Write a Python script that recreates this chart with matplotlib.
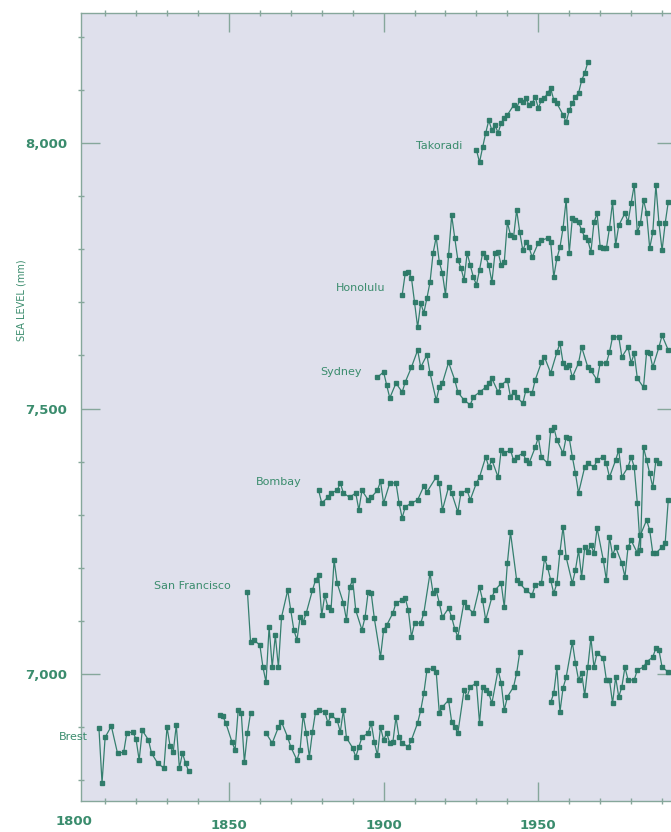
import numpy as np
import matplotlib
matplotlib.use("Agg")
import matplotlib.pyplot as plt
from matplotlib.ticker import MultipleLocator, FuncFormatter, NullFormatter
import matplotlib.transforms as mtransforms

# ---------------- data (annual mean sea level, mm) ----------------
brest_years = [1808, 1809, 1810, 1812, 1814, 1816, 1817, 1819, 1820, 1821, 1822, 1824, 1825,
               1827, 1829, 1830, 1831, 1832, 1833, 1834, 1835, 1836, 1837,
               1847, 1848, 1849, 1851, 1852, 1853, 1854, 1855, 1856, 1857,
               1862, 1864, 1866, 1867, 1869, 1870, 1872, 1873, 1874, 1875, 1876, 1877, 1878,
               1879, 1881, 1882, 1883, 1885, 1886, 1887, 1888, 1890, 1891, 1892, 1893, 1895,
               1896, 1897, 1898, 1899, 1900, 1901, 1902, 1903, 1904, 1905, 1906, 1908, 1909,
               1911, 1912, 1913, 1914, 1916, 1917, 1918, 1919, 1921, 1922, 1923, 1924, 1926,
               1927, 1928, 1930, 1931, 1932, 1933, 1934, 1935, 1937, 1938, 1939, 1940, 1942,
               1943, 1944,
               1954, 1955, 1956, 1957, 1958, 1959, 1961, 1962, 1963, 1964, 1965, 1966, 1967,
               1968, 1969, 1971, 1972, 1973, 1974, 1975, 1976, 1977, 1978, 1979, 1981, 1982,
               1984, 1985, 1987, 1988, 1989, 1990, 1992]
brest_mm = [6898, 6795, 6881, 6902, 6851, 6853, 6889, 6891, 6877, 6838, 6894, 6876, 6851,
            6832, 6823, 6900, 6864, 6853, 6904, 6823, 6851, 6832, 6817,
            6923, 6921, 6908, 6872, 6857, 6932, 6927, 6834, 6889, 6927,
            6889, 6870, 6900, 6910, 6881, 6863, 6838, 6857, 6923, 6889, 6844, 6891, 6929,
            6932, 6929, 6908, 6923, 6913, 6891, 6932, 6880, 6861, 6844, 6863, 6881, 6889,
            6908, 6872, 6847, 6900, 6876, 6889, 6870, 6872, 6919, 6881, 6870, 6863, 6876,
            6908, 6932, 6964, 7007, 7011, 7004, 6927, 6938, 6951, 6910, 6900, 6889, 6970,
            6957, 6976, 6983, 6908, 6976, 6970, 6964, 6945, 7008, 6983, 6932, 6957, 6976,
            7002, 7041,
            6947, 6964, 7013, 6929, 6974, 6994, 7060, 7021, 6989, 7002, 6960, 7013, 7068,
            7013, 7040, 7030, 6989, 6989, 6945, 6994, 6957, 6976, 7013, 6989, 6989, 7008,
            7013, 7023, 7032, 7049, 7045, 7013, 7004]

sf_years = [1856, 1857, 1858, 1860, 1861, 1862, 1863, 1864, 1865, 1866, 1867, 1869, 1870,
            1871, 1872, 1873, 1874, 1875, 1877, 1878, 1879, 1880, 1881, 1882, 1883, 1884,
            1885, 1887, 1888, 1889, 1890, 1891, 1893, 1894, 1895, 1896, 1897, 1899, 1900,
            1901, 1903, 1904, 1906, 1907, 1908, 1909, 1910, 1912, 1913, 1915, 1916, 1917,
            1918, 1919, 1921, 1922, 1923, 1924, 1926, 1927, 1929, 1931, 1932, 1933, 1935,
            1936, 1938, 1939, 1940, 1941, 1943, 1944, 1946, 1948, 1949, 1951, 1952, 1953,
            1954, 1955, 1956, 1957, 1958, 1959, 1961, 1962, 1963, 1964, 1965, 1966, 1967,
            1968, 1969, 1971, 1972, 1973, 1974, 1975, 1977, 1978, 1979, 1980, 1982, 1983,
            1985, 1986, 1987, 1988, 1990, 1991, 1992]
sf_mm = [7154, 7060, 7064, 7055, 7013, 6985, 7089, 7013, 7073, 7013, 7107, 7158, 7120,
         7083, 7064, 7107, 7098, 7115, 7158, 7177, 7186, 7111, 7149, 7126, 7120, 7215,
         7171, 7134, 7102, 7164, 7177, 7120, 7083, 7107, 7154, 7152, 7105, 7032, 7083,
         7092, 7115, 7134, 7139, 7143, 7120, 7070, 7096, 7096, 7115, 7190, 7152, 7158,
         7134, 7107, 7124, 7107, 7085, 7070, 7136, 7126, 7115, 7164, 7139, 7102, 7145,
         7158, 7171, 7126, 7209, 7267, 7177, 7171, 7158, 7149, 7168, 7171, 7218, 7201,
         7177, 7152, 7171, 7230, 7277, 7220, 7171, 7196, 7233, 7183, 7239, 7230, 7243,
         7228, 7275, 7215, 7177, 7258, 7224, 7239, 7209, 7183, 7239, 7252, 7228, 7262,
         7290, 7271, 7228, 7228, 7239, 7247, 7328]

bombay_years = [1879, 1880, 1882, 1883, 1885, 1886, 1887, 1889, 1891, 1892, 1893, 1895,
                1896, 1898, 1899, 1900, 1902, 1904, 1905, 1906, 1907, 1909, 1911, 1913,
                1914, 1917, 1918, 1919, 1921, 1922, 1924, 1925, 1927, 1928, 1930, 1931,
                1933, 1934, 1935, 1937, 1938, 1939, 1941, 1942, 1943, 1945, 1946, 1947,
                1949, 1950, 1951, 1953, 1954, 1955, 1956, 1958, 1959, 1960, 1961, 1962,
                1963, 1965, 1966, 1968, 1969, 1971, 1972, 1973, 1975, 1976, 1977, 1979,
                1980, 1981, 1982, 1983, 1984, 1985, 1986, 1987, 1988, 1989]
bombay_mm = [7346, 7322, 7333, 7341, 7346, 7360, 7341, 7333, 7341, 7309, 7346, 7328,
             7333, 7346, 7363, 7322, 7360, 7360, 7322, 7294, 7315, 7322, 7328, 7354,
             7343, 7371, 7360, 7309, 7352, 7341, 7305, 7341, 7346, 7328, 7360, 7371,
             7409, 7390, 7403, 7371, 7422, 7416, 7422, 7403, 7409, 7416, 7403, 7397,
             7427, 7446, 7409, 7397, 7459, 7465, 7441, 7416, 7446, 7444, 7409, 7378,
             7341, 7390, 7397, 7390, 7403, 7409, 7397, 7371, 7403, 7422, 7371, 7390,
             7409, 7390, 7322, 7233, 7427, 7403, 7378, 7352, 7403, 7397]

sydney_years = [1898, 1900, 1901, 1902, 1904, 1906, 1907, 1909, 1911, 1912, 1914, 1915,
                1917, 1918, 1919, 1921, 1923, 1924, 1926, 1928, 1929, 1931, 1933, 1934,
                1935, 1937, 1938, 1940, 1941, 1942, 1943, 1945, 1946, 1948, 1949, 1951,
                1952, 1954, 1956, 1957, 1958, 1959, 1960, 1961, 1963, 1964, 1966, 1967,
                1969, 1970, 1972, 1973, 1974, 1976, 1977, 1979, 1980, 1981, 1982, 1984,
                1985, 1986, 1987, 1989, 1990, 1992]
sydney_mm = [7559, 7569, 7544, 7520, 7548, 7531, 7550, 7578, 7610, 7578, 7601, 7567,
             7516, 7540, 7548, 7587, 7554, 7531, 7516, 7507, 7522, 7531, 7540, 7548,
             7557, 7531, 7544, 7554, 7522, 7531, 7522, 7510, 7535, 7529, 7554, 7587,
             7597, 7567, 7606, 7623, 7586, 7578, 7582, 7559, 7586, 7616, 7578, 7572,
             7554, 7586, 7586, 7606, 7635, 7635, 7597, 7616, 7586, 7604, 7557, 7540,
             7606, 7604, 7578, 7616, 7638, 7610]

honolulu_years = [1906, 1907, 1908, 1909, 1910, 1911, 1912, 1913, 1914, 1915, 1916, 1917,
                  1918, 1919, 1920, 1921, 1922, 1923, 1924, 1925, 1926, 1927, 1928, 1929,
                  1930, 1931, 1932, 1933, 1934, 1935, 1936, 1937, 1938, 1939, 1940, 1941,
                  1942, 1943, 1944, 1945, 1946, 1947, 1948, 1950, 1951, 1953, 1954, 1955,
                  1956, 1957, 1958, 1959, 1960, 1961, 1962, 1963, 1964, 1965, 1966, 1967,
                  1968, 1969, 1970, 1971, 1972, 1973, 1974, 1975, 1976, 1978, 1979, 1980,
                  1981, 1982, 1983, 1984, 1985, 1986, 1987, 1988, 1989, 1990, 1991, 1992]
honolulu_mm = [7714, 7755, 7757, 7746, 7700, 7653, 7699, 7680, 7708, 7738, 7793, 7823,
               7776, 7755, 7714, 7789, 7864, 7821, 7780, 7765, 7742, 7793, 7770, 7748,
               7733, 7761, 7793, 7785, 7770, 7738, 7793, 7795, 7770, 7776, 7851, 7827,
               7823, 7874, 7832, 7798, 7813, 7804, 7785, 7812, 7817, 7821, 7813, 7748,
               7783, 7804, 7840, 7893, 7793, 7859, 7855, 7851, 7836, 7823, 7817, 7795,
               7851, 7868, 7804, 7802, 7802, 7840, 7889, 7808, 7845, 7868, 7851, 7887,
               7921, 7832, 7849, 7893, 7868, 7802, 7832, 7921, 7849, 7798, 7849, 7889]

takoradi_years = [1930, 1931, 1932, 1933, 1934, 1935, 1936, 1937, 1938, 1939, 1940, 1942,
                  1943, 1944, 1945, 1946, 1947, 1948, 1949, 1950, 1951, 1952, 1953, 1954,
                  1955, 1956, 1958, 1959, 1960, 1961, 1962, 1963, 1964, 1965, 1966]
takoradi_mm = [7987, 7964, 7992, 8019, 8043, 8024, 8034, 8019, 8038, 8047, 8053, 8071,
               8066, 8081, 8077, 8085, 8071, 8075, 8087, 8066, 8081, 8085, 8094, 8103,
               8081, 8075, 8053, 8039, 8062, 8075, 8087, 8094, 8118, 8132, 8152]

station_names = ["Brest", "San Francisco", "Bombay", "Sydney", "Honolulu", "Takoradi"]
series = [(brest_years, brest_mm), (sf_years, sf_mm), (bombay_years, bombay_mm),
          (sydney_years, sydney_mm), (honolulu_years, honolulu_mm),
          (takoradi_years, takoradi_mm)]

# ---------------- style ----------------
LINE = "#2c7a68"
TEXT = "#3a8c6d"
SPINE = "#86a79b"
BG = "#dfe0ec"
NARROW = ["Liberation Sans Narrow", "DejaVu Sans"]

fig = plt.figure(figsize=(6.71, 8.32), dpi=100)
ax = fig.add_axes([81 / 671, 1 - 801 / 832, (676 - 81) / 671, (801 - 13) / 832])
ax.set_facecolor(BG)
ax.set_xlim(1802.2, 1994.5)
ax.set_ylim(6761, 8245)


def breaks(years, vals, gap=3):
    xs, ys = [], []
    for i, (yr, v) in enumerate(zip(years, vals)):
        if i > 0 and yr - years[i - 1] > gap:
            xs.append(np.nan)
            ys.append(np.nan)
        xs.append(yr)
        ys.append(v)
    return np.array(xs, float), np.array(ys, float)


for yrs, vals in series:
    xs, ys = breaks(yrs, vals)
    ax.plot(xs, ys, color=LINE, lw=0.9, marker="s", ms=2.4, mec=LINE, mfc=LINE,
            alpha=0.95, zorder=3)

# station labels (anchored at right edge, near the series start)
label_pos = {"Brest": (1804.4, 6881), "San Francisco": (1850.6, 7166),
             "Bombay": (1873.6, 7362), "Sydney": (1893.0, 7569),
             "Honolulu": (1900.5, 7727), "Takoradi": (1925.4, 7994)}
for name in station_names:
    x, y = label_pos[name]
    ax.text(x, y, name, ha="right", va="center", fontsize=8, color=TEXT,
            family=NARROW, clip_on=False, zorder=4)

# axes, ticks
for side in ["left", "bottom", "top", "right"]:
    ax.spines[side].set_color(SPINE)
    ax.spines[side].set_linewidth(1.0)

ax.xaxis.set_major_locator(MultipleLocator(50))
ax.xaxis.set_minor_locator(MultipleLocator(10))
ax.yaxis.set_major_locator(MultipleLocator(500))
ax.yaxis.set_minor_locator(MultipleLocator(100))
ax.yaxis.set_major_formatter(FuncFormatter(lambda v, p: f"{int(v):,}"))
ax.xaxis.set_major_formatter(FuncFormatter(lambda v, p: f"{int(v)}"))

ax.tick_params(which="major", direction="in", length=14, width=1.0, color=SPINE,
               top=True, right=True, labelcolor=TEXT)
ax.tick_params(which="minor", direction="inout", length=5, width=1.0, color=SPINE,
               top=True, right=True)
ax.tick_params(axis="x", which="major", pad=13)
ax.tick_params(axis="y", which="major", pad=10)

for lab in ax.get_xticklabels() + ax.get_yticklabels():
    lab.set_family(NARROW)
    lab.set_fontweight("bold")
    lab.set_fontsize(9.5)

# "1800" label sits just left of the axis start
trans = mtransforms.blended_transform_factory(ax.transData, ax.transAxes)
ax.text(1800, -0.0265, "1800", transform=trans, ha="center", va="center",
        fontsize=9.5, fontweight="bold", color=TEXT, family=NARROW, clip_on=False)

fig.text(22 / 671, 1 - 300 / 832, "SEA LEVEL (mm)", rotation=90, ha="center",
         va="center", fontsize=7, color=TEXT, family=NARROW)

fig.savefig("out.png", dpi=100, facecolor="white")
